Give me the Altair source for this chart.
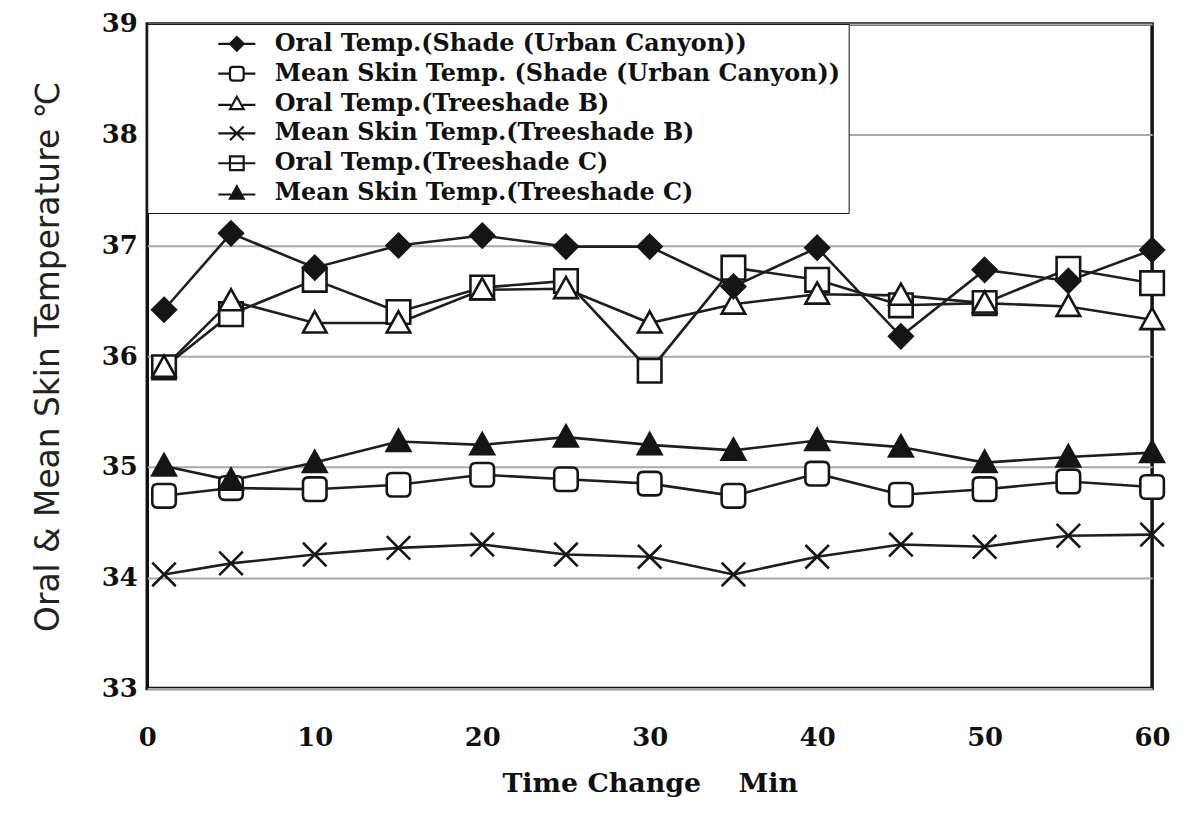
import altair as alt
import pandas as pd

minutes = [1, 5, 10, 15, 20, 25, 30, 35, 40, 45, 50, 55, 60]

series_names = [
    "Oral Temp.(Shade (Urban Canyon))",
    "Mean Skin Temp. (Shade (Urban Canyon))",
    "Oral Temp.(Treeshade B)",
    "Mean Skin Temp.(Treeshade B)",
    "Oral Temp.(Treeshade C)",
    "Mean Skin Temp.(Treeshade C)",
]

oral_shade = [36.42, 37.11, 36.80, 37.00, 37.09, 36.99, 36.99, 36.63, 36.98, 36.18, 36.78, 36.68, 36.96]
skin_shade = [34.74, 34.81, 34.80, 34.84, 34.93, 34.89, 34.85, 34.74, 34.94, 34.75, 34.80, 34.87, 34.82]
oral_b = [35.90, 36.50, 36.30, 36.30, 36.60, 36.61, 36.30, 36.47, 36.56, 36.55, 36.48, 36.45, 36.33]
skin_b = [34.03, 34.13, 34.21, 34.27, 34.30, 34.21, 34.19, 34.03, 34.19, 34.30, 34.28, 34.38, 34.39]
oral_c = [35.90, 36.38, 36.69, 36.40, 36.62, 36.68, 35.87, 36.80, 36.69, 36.46, 36.48, 36.79, 36.66]
skin_c = [35.01, 34.88, 35.04, 35.23, 35.20, 35.27, 35.20, 35.15, 35.24, 35.18, 35.04, 35.09, 35.13]

series_values = [oral_shade, skin_shade, oral_b, skin_b, oral_c, skin_c]

# drawing order (later on top)
draw_order = [4, 1, 5, 3, 2, 0]

DIAMOND = "M0,-1L1,0L0,1L-1,0Z"
ROUND = "M-0.55,-1L0.55,-1Q1,-1 1,-0.55L1,0.55Q1,1 0.55,1L-0.55,1Q-1,1 -1,0.55L-1,-0.55Q-1,-1 -0.55,-1Z"
TRI = "M0,-1L1,0.8L-1,0.8Z"
XS = "M-1,-1L1,1M-1,1L1,-1"
SQ = "M-1,-1L1,-1L1,1L-1,1Z"
STUB = "M-2.7,0L-1,0M1,0L2.7,0"

marker_shapes = [DIAMOND, ROUND, TRI, XS, SQ, TRI]
legend_shapes = [
    DIAMOND + STUB,
    ROUND + STUB,
    TRI + "M-2.7,0.2L-0.85,0.2M0.85,0.2L2.7,0.2",
    XS + "M-2.7,0L2.7,0",
    SQ + "M-2.7,0L2.7,0",
    TRI + "M-2.7,0.2L-0.85,0.2M0.85,0.2L2.7,0.2",
]
fills = ["#151515", "white", "white", "white", "white", "#151515"]

rows = []
for i in draw_order:
    for m, v in zip(minutes, series_values[i]):
        rows.append({"series": series_names[i], "minute": m, "temp": v})
df = pd.DataFrame(rows)

x_enc = alt.X(
    "minute:Q",
    scale=alt.Scale(domain=[0, 60], nice=False, zero=False),
    axis=alt.Axis(
        values=[0, 10, 20, 30, 40, 50, 60],
        labelFont="DejaVu Serif", labelFontWeight="bold", labelFontSize=26,
        labelColor="#111", labelPadding=36, labelFlush=False,
        ticks=False, domain=False, grid=False,
        title="Time Change\u00a0\u00a0\u00a0 Min",
        titleFont="DejaVu Serif", titleFontWeight="bold", titleFontSize=27,
        titleColor="#111", titlePadding=20,
    ),
)
y_enc = alt.Y(
    "temp:Q",
    scale=alt.Scale(domain=[33, 39], nice=False, zero=False),
    axis=alt.Axis(
        values=[33, 34, 35, 36, 37, 38, 39],
        labelFont="DejaVu Serif", labelFontWeight="bold", labelFontSize=26,
        labelColor="#111", labelPadding=10,
        ticks=False, domain=False,
        grid=True, gridColor="#a8a8a8", gridWidth=2,
        title="Oral & Mean Skin Temperature \u2103",
        titleFont="DejaVu Sans", titleFontWeight="normal", titleFontSize=33,
        titleColor="#222", titlePadding=36,
    ),
)

lines = alt.Chart(df).mark_line(color="#1e1e1e", strokeWidth=2.6).encode(
    x=x_enc, y=y_enc, detail="series:N", order=alt.Order("minute:Q")
)

points = alt.Chart(df).mark_point(
    filled=False, stroke="#151515", strokeWidth=2.6, size=560, opacity=1
).encode(
    x=x_enc,
    y=y_enc,
    shape=alt.Shape("series:N", scale=alt.Scale(domain=series_names, range=marker_shapes), legend=None),
    fill=alt.Fill("series:N", scale=alt.Scale(domain=series_names, range=fills), legend=None),
)

legend = alt.Legend(
    title=None, orient="top-left", offset=0, padding=8,
    strokeColor="#111", fillColor="white",
    symbolOffset=70, labelOffset=26, labelLimit=800,
    labelFont="DejaVu Serif", labelFontWeight="bold", labelFontSize=24, labelColor="#111",
    rowPadding=6, symbolStrokeWidth=2.2, symbolSize=190,
)

legend_layer = alt.Chart(df).transform_filter("datum.minute < 0").mark_point(
    filled=False, stroke="#151515", strokeWidth=2.2, size=190, opacity=1
).encode(
    x=x_enc,
    y=y_enc,
    shape=alt.Shape("series:N", scale=alt.Scale(domain=series_names, range=legend_shapes), legend=legend),
    fill=alt.Fill("series:N", scale=alt.Scale(domain=series_names, range=fills), legend=legend),
)

chart = alt.layer(lines, points, legend_layer).resolve_scale(
    shape="independent", fill="independent"
).properties(
    width=1010, height=668,
    padding={"left": 140, "top": 14, "right": 20, "bottom": 116},
    autosize=alt.AutoSizeParams(type="none"),
).configure(
    background="white",
    view=alt.ViewConfig(stroke="#111", strokeWidth=3.5),
)

chart.save("out.html", embed_options={"renderer": "svg", "actions": False})
